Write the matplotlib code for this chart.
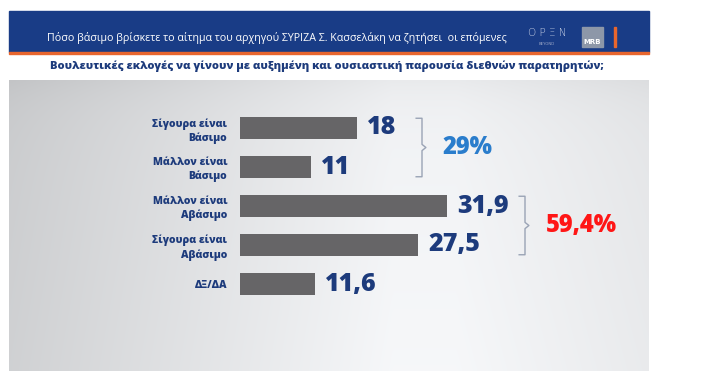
import matplotlib.pyplot as plt
import matplotlib.patches as patches
import numpy as np

# Data
categories = ["Σίγουρα είναι\nΒάσιμο", "Μάλλον είναι\nΒάσιμο",
              "Μάλλον είναι\nΑβάσιμο", "Σίγουρα είναι\nΑβάσιμο", "ΔΞ/ΔΑ"]
values = [18, 11, 31.9, 27.5, 11.6]
value_labels = ["18", "11", "31,9", "27,5", "11,6"]
group_labels = ["29%", "59,4%"]
group_members = [(0, 1), (2, 3)]

title = "Πόσο βάσιμο βρίσκετε το αίτημα του αρχηγού ΣΥΡΙΖΑ Σ. Κασσελάκη να ζητήσει  οι επόμενες"
subtitle = "Βουλευτικές εκλογές να γίνουν με αυξημένη και ουσιαστική παρουσία διεθνών παρατηρητών;"

W, H = 709, 389
NAVY = "#1d3b7c"
BAND = "#193c86"


def fx(px):
    return px / W


def fy(py):
    return 1 - py / H


fig = plt.figure(figsize=(W / 100, H / 100), dpi=100)
fig.patch.set_facecolor("white")

# Top blue band + orange line
fig.patches.append(patches.Rectangle((fx(9), fy(52)), fx(640), 41 / H,
                                     transform=fig.transFigure, color=BAND, zorder=0))
fig.patches.append(patches.Rectangle((fx(9), fy(54)), fx(640), 2 / H,
                                     transform=fig.transFigure, color="#e8662e", zorder=1))
fig.patches.append(patches.Rectangle((fx(614), fy(47)), 1.5 / W, 20 / H,
                                     transform=fig.transFigure, color="#e8662e", zorder=1))
# MRB box
fig.patches.append(patches.Rectangle((fx(582), fy(47)), fx(21), 20 / H,
                                     transform=fig.transFigure, color="#8d97a8", zorder=1))
fig.text(fx(592.5), fy(42), "MRB", color="white", fontsize=5, fontweight="bold",
         ha="center", va="center", family="DejaVu Sans")
fig.text(fx(547), fy(33), "O P Ξ N", color="#c9d2e6", fontsize=7.5, ha="center",
         va="center", family="DejaVu Sans", fontweight="light")
fig.text(fx(547), fy(44), "BEYOND", color="#9aa6c6", fontsize=2.8, ha="center",
         va="center", family="DejaVu Sans")

fig.text(fx(47), fy(38), title, color="white", fontsize=7.7, ha="left", va="center",
         family="Open Sans")
fig.text(fx(50), fy(66), subtitle, color=NAVY, fontsize=8.0, fontweight="heavy",
         ha="left", va="center", family="Open Sans")

# Gray gradient background panel
bg = fig.add_axes([fx(9), fy(371), fx(640), 291 / H], zorder=0)
xs = np.linspace(0, 1, 300)
ys = np.linspace(0, 1, 100)
gx, gy = np.meshgrid(xs, ys)
light = 0.80 + 0.15 * np.clip(xs / 0.6, 0, 1)[None, :] - 0.05 * np.clip((xs - 0.7) / 0.3, 0, 1)[None, :]
light = light + 0.02 * gy - 0.03 * np.exp(-gy * 12)
img = np.dstack([light - 0.005, light, light + 0.008])
bg.imshow(np.clip(img, 0, 1), aspect="auto", extent=[0, 1, 1, 0], interpolation="bilinear")
bg.set_axis_off()

# Bar axes: x=0 at pixel 240, 6.49 px per unit; rows 39 px apart starting at y=128
x0, scale = 240, 6.49
y0, step = 128, 39
ax = fig.add_axes([fx(x0), fy(371), fx(409), 291 / H], zorder=1)
ax.patch.set_alpha(0)
ax.set_xlim(0, 409 / scale)
ax.set_ylim((371 - y0) / step, (80 - y0) / step)

pos = np.arange(len(values))
ax.barh(pos, values, height=0.55, color="#666567")
for p, v, lab in zip(pos, values, value_labels):
    ax.text(v + 1.5, p, lab, color=NAVY, fontsize=18, fontweight="heavy",
            ha="left", va="center", family="Open Sans")

ax.set_yticks(pos)
ax.set_yticklabels(categories, fontsize=7.5, fontweight="heavy", color=NAVY,
                   family="Open Sans", linespacing=1.3)
for t in ax.get_yticklabels():
    t.set_multialignment("right")
ax.tick_params(axis="y", length=0, pad=9)
ax.tick_params(axis="x", length=0, labelbottom=False)
for s in ax.spines.values():
    s.set_visible(False)

# Group brackets
bracket_x = [(422 - x0) / scale, (525 - x0) / scale]
group_colors = ["#2a7dcc", "#ff1616"]
for (a, b), bx, lab, col in zip(group_members, bracket_x, group_labels, group_colors):
    top, bot = a - 0.25, b + 0.25
    mid = (top + bot) / 2
    ax.plot([bx - 0.9, bx, bx, bx + 0.6, bx, bx, bx - 0.9],
            [top, top, mid - 0.08, mid, mid + 0.08, bot, bot],
            color="#9aa3b5", lw=1)
    ax.text(bx + 3.2, mid, lab, color=col, fontsize=17, fontweight="heavy",
            ha="left", va="center", family="Open Sans")

plt.savefig("out.png", dpi=100)
